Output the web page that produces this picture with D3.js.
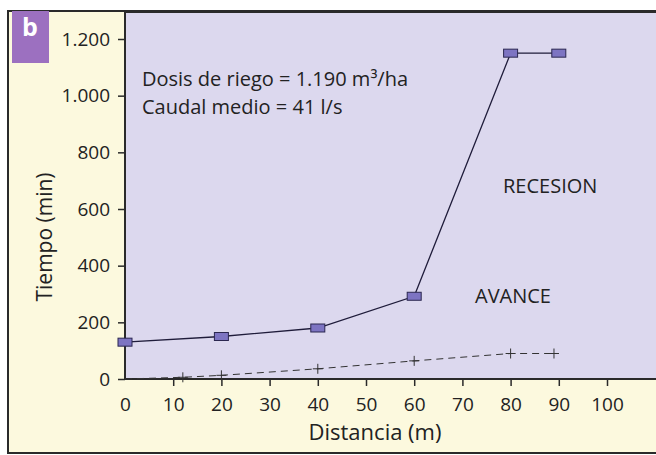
<!DOCTYPE html>
<html lang="es">
<head>
<meta charset="utf-8">
<title>Riego - avance y recesion</title>
<script src="https://cdnjs.cloudflare.com/ajax/libs/d3/7.8.5/d3.min.js"></script>
<style>
body { margin: 0; background: #fff; }
text { font-family: "Open Sans", "Noto Sans", sans-serif; fill: #222; }
</style>
</head>
<body>
<div id="chart"></div>
<script>

// data
var recesionX = [0, 20, 40, 60, 80, 90];
var recesionY = [130, 150, 180, 292, 1150, 1150];
var avanceX = [0, 12, 20, 40, 60, 80, 89];
var avanceY = [0, 6, 13, 36, 64, 90, 90];
var xTicks = [0, 10, 20, 30, 40, 50, 60, 70, 80, 90, 100];
var yTicks = [0, 200, 400, 600, 800, 1000, 1200];
var notes = ["Dosis de riego = 1.190 m³/ha", "Caudal medio = 41 l/s"];

var W = 656, H = 455;
var plot = {left: 125, top: 12, right: 656, bottom: 379};

var svg = d3.select("#chart").append("svg")
    .attr("width", W)
    .attr("height", H);

// outer yellow panel
svg.append("rect")
    .attr("x", 8).attr("y", 11)
    .attr("width", W).attr("height", 442)
    .attr("fill", "#fcf9de")
    .attr("stroke", "#2a2a2a")
    .attr("stroke-width", 2);

// plot background
svg.append("rect")
    .attr("x", plot.left).attr("y", plot.top)
    .attr("width", plot.right - plot.left).attr("height", plot.bottom - plot.top)
    .attr("fill", "#dcd8ee");

svg.append("line")
    .attr("x1", plot.left).attr("x2", W)
    .attr("y1", plot.top).attr("y2", plot.top)
    .attr("stroke", "#2a2a2a").attr("stroke-width", 2);

// "b" badge
svg.append("rect")
    .attr("x", 12).attr("y", 11)
    .attr("width", 37).attr("height", 52)
    .attr("fill", "#9c70c0");
svg.append("text")
    .attr("x", 30).attr("y", 36)
    .attr("text-anchor", "middle")
    .style("fill", "#fff")
    .style("font-weight", "bold")
    .style("font-size", "25px")
    .text("b");

var x = d3.scaleLinear().domain([0, 100]).range([125, 607]);
var y = d3.scaleLinear().domain([0, 1200]).range([379, 39]);

var fmt = d3.format(",");
function esNum(d) { return fmt(d).replace(/,/g, "."); }

var xAxis = svg.append("g")
    .attr("transform", "translate(0," + plot.bottom + ")")
    .call(d3.axisBottom(x).tickValues(xTicks).tickSize(7).tickPadding(12).tickSizeOuter(0));
var yAxis = svg.append("g")
    .attr("transform", "translate(" + plot.left + ",0)")
    .call(d3.axisLeft(y).tickValues(yTicks).tickFormat(esNum).tickSize(7).tickPadding(8).tickSizeOuter(0));

[xAxis, yAxis].forEach(function(a) {
    a.select(".domain").attr("stroke", "#2a2a2a").attr("stroke-width", 2);
    a.selectAll(".tick line").attr("stroke", "#2a2a2a").attr("stroke-width", 1.5);
    a.selectAll(".tick text").style("font-size", "19px").style("fill", "#222")
        .style("font-family", "'Open Sans', 'Noto Sans', sans-serif");
});
xAxis.select(".domain").attr("d", "M" + plot.left + ",0H" + W);
yAxis.select(".domain").attr("d", "M0," + plot.top + "V" + plot.bottom);
xAxis.selectAll(".tick").filter(function(d) { return d === 0; }).select("line").remove();

svg.append("text")
    .attr("transform", "translate(52,237) rotate(-90)")
    .attr("text-anchor", "middle")
    .style("font-size", "21px")
    .text("Tiempo (min)");
svg.append("text")
    .attr("x", 375).attr("y", 440)
    .attr("text-anchor", "middle")
    .style("font-size", "22px")
    .text("Distancia (m)");

// annotations
svg.selectAll(".note").data(notes).enter().append("text")
    .attr("class", "note")
    .attr("x", 142)
    .attr("y", function(d, i) { return 86 + i * 28; })
    .style("font-size", "20px")
    .text(function(d) { return d; });
svg.append("text").attr("x", 503).attr("y", 193)
    .style("font-size", "20px").text("RECESION");
svg.append("text").attr("x", 475).attr("y", 303)
    .style("font-size", "20px").text("AVANCE");

// avance: dashed line with pluses
var avance = avanceX.map(function(d, i) { return [d, avanceY[i]]; });
svg.append("path")
    .datum(avance)
    .attr("fill", "none")
    .attr("stroke", "#333")
    .attr("stroke-width", 1)
    .attr("stroke-dasharray", "7,5")
    .attr("d", d3.line().x(function(d) { return x(d[0]); }).y(function(d) { return y(d[1]); }));
svg.selectAll(".plus").data(avance.slice(1)).enter().append("path")
    .attr("class", "plus")
    .attr("stroke", "#333")
    .attr("stroke-width", 1)
    .attr("d", function(d) {
        var px = x(d[0]), py = y(d[1]);
        return "M" + (px - 5) + "," + py + "H" + (px + 5) + "M" + px + "," + (py - 5) + "V" + (py + 5);
    });

// recesion: solid line with square markers
var recesion = recesionX.map(function(d, i) { return [d, recesionY[i]]; });
svg.append("path")
    .datum(recesion)
    .attr("fill", "none")
    .attr("stroke", "#1f1c3a")
    .attr("stroke-width", 1.3)
    .attr("d", d3.line().x(function(d) { return x(d[0]); }).y(function(d) { return y(d[1]); }));
svg.selectAll(".sq").data(recesion).enter().append("rect")
    .attr("class", "sq")
    .attr("x", function(d) { return x(d[0]) - 7; })
    .attr("y", function(d) { return y(d[1]) - 4; })
    .attr("width", 14).attr("height", 8)
    .attr("fill", "#7d74c2")
    .attr("stroke", "#2b2750")
    .attr("stroke-width", 1);

</script>
</body>
</html>
